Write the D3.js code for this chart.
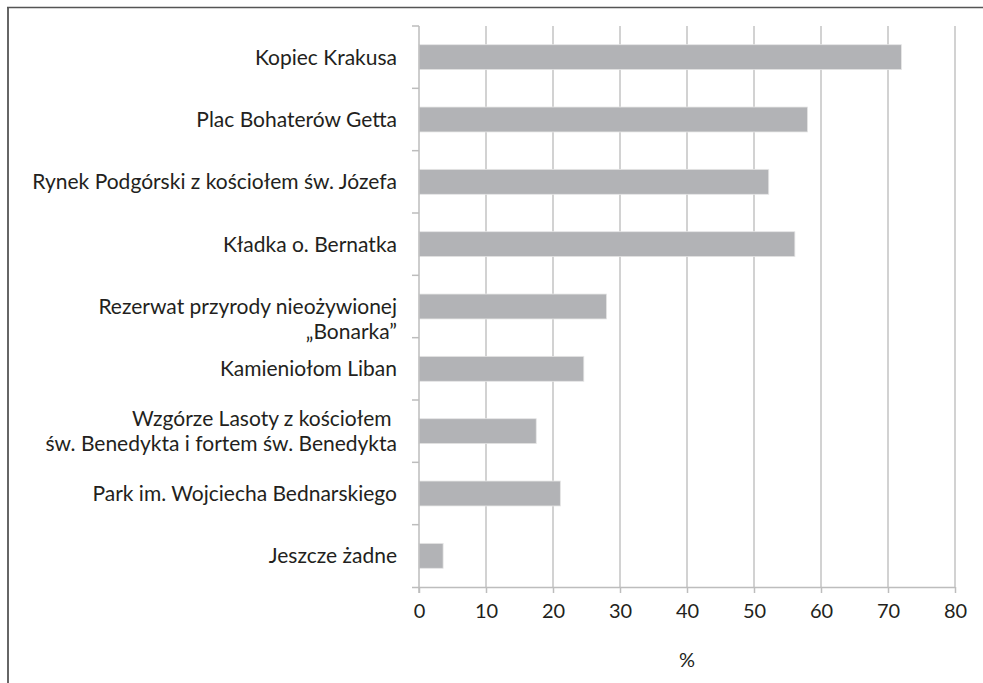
<!DOCTYPE html>
<html><head><meta charset="utf-8">
<script src="https://cdn.jsdelivr.net/npm/d3@7"></script>
<style>
html,body{margin:0;padding:0;background:#fff;}
svg{display:block;font-family:Lato,"Open Sans",sans-serif;}
</style></head>
<body>
<script>
const categories = [
  ["Kopiec Krakusa"],
  ["Plac Bohaterów Getta"],
  ["Rynek Podgórski z kościołem św. Józefa"],
  ["Kładka o. Bernatka"],
  ["Rezerwat przyrody nieożywionej", "„Bonarka”"],
  ["Kamieniołom Liban"],
  ["Wzgórze Lasoty z kościołem ", "św. Benedykta i fortem św. Benedykta"],
  ["Park im. Wojciecha Bednarskiego"],
  ["Jeszcze żadne"]
];
const values = [72, 58, 52.2, 56.1, 28.0, 24.6, 17.5, 21.1, 3.6];
const xTicks = [0, 10, 20, 30, 40, 50, 60, 70, 80];
const xTitle = "%";

const W = 983, H = 683;
const svg = d3.select("body").append("svg").attr("width", W).attr("height", H);

// frame
svg.append("line").attr("x1", 8).attr("x2", 8).attr("y1", 7).attr("y2", H).attr("stroke", "#666").attr("stroke-width", 2);
svg.append("line").attr("x1", 7).attr("x2", W).attr("y1", 7.5).attr("y2", 7.5).attr("stroke", "#555").attr("stroke-width", 1.3);

const x0 = 419, x1 = 955, yTop = 26, yBot = 587;
const x = d3.scaleLinear().domain([0, 80]).range([x0, x1]);
const y = d3.scaleBand().domain(d3.range(categories.length)).range([yTop, yBot]).paddingInner(0.6).paddingOuter(0.3);
const band = (yBot - yTop) / categories.length;

// gridlines
svg.append("g").selectAll("line").data(xTicks.slice(1)).join("line")
  .attr("x1", d => x(d)).attr("x2", d => x(d)).attr("y1", yTop).attr("y2", yBot)
  .attr("stroke", "#c3c3c3").attr("stroke-width", 1.5);

// bars
svg.append("g").selectAll("rect").data(values).join("rect")
  .attr("x", x(0)).attr("y", (d, i) => y(i))
  .attr("width", d => x(d) - x(0)).attr("height", y.bandwidth())
  .attr("fill", "#b2b3b6").attr("stroke", "#e6e6e6").attr("stroke-width", 0.8);

// y axis line and ticks
svg.append("line").attr("x1", x0).attr("x2", x0).attr("y1", yTop).attr("y2", yBot + 6).attr("stroke", "#bdbdbd").attr("stroke-width", 1.5);
svg.append("g").selectAll("line").data(d3.range(categories.length)).join("line")
  .attr("x1", x0 - 7).attr("x2", x0).attr("y1", i => yTop + i * band).attr("y2", i => yTop + i * band)
  .attr("stroke", "#bdbdbd").attr("stroke-width", 1.5);

// x axis
const xAxis = d3.axisBottom(x).tickValues(xTicks).tickSize(6).tickPadding(11).tickSizeOuter(0);
const gx = svg.append("g").attr("transform", `translate(0,${yBot})`).call(xAxis);
gx.select(".domain").attr("stroke", "#bdbdbd").attr("stroke-width", 1.5).attr("d", `M${x0 - 7},0.5H${x1}`);
gx.selectAll(".tick line").attr("stroke", "#bdbdbd").attr("stroke-width", 1.5);
gx.selectAll(".tick text").attr("font-size", 20).attr("fill", "#231f20").attr("font-family", "Lato, 'Open Sans', sans-serif");

svg.append("text").attr("x", (x0 + x1) / 2).attr("y", 667).attr("text-anchor", "middle")
  .attr("font-size", 20).attr("fill", "#231f20").text(xTitle);

// category labels
const lineH = 25;
const labelOffset = {4: 12.5};
const lg = svg.append("g");
categories.forEach((lines, i) => {
  const cy = yTop + i * band + band / 2 + (labelOffset[i] || 0);
  const startY = cy - (lines.length - 1) * lineH / 2;
  lines.forEach((t, j) => {
    lg.append("text").attr("x", 397).attr("y", startY + j * lineH).attr("dy", "0.35em")
      .attr("text-anchor", "end").attr("font-size", 21).attr("fill", "#231f20")
      .attr("xml:space", "preserve").style("white-space", "pre").text(t);
  });
});
</script>
</body></html>
